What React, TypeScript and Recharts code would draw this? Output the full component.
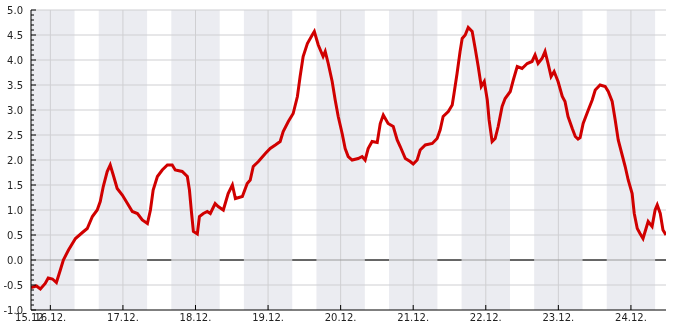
import { Line, LineChart, ReferenceArea, ReferenceLine, XAxis, YAxis } from "recharts";

// hours counted from 16.12. 00:00
const hours = [
  -6.4, -4.6, -3.3, -1.7, -0.7, 0.7, 2.0, 3.3, 4.3, 6.0,
  8.3, 10.6, 12.2, 13.9, 15.5, 16.5, 17.5, 18.8, 19.8, 20.8,
  22.1, 23.8, 25.5, 27.1, 28.8, 30.4, 32.1, 33.1, 34.0, 35.4,
  37.0, 38.7, 40.3, 41.3, 43.6, 45.3, 46.0, 46.6, 47.3, 48.6,
  49.3, 50.6, 51.9, 52.9, 54.5, 55.5, 57.2, 58.8, 60.2, 61.2,
  63.5, 65.1, 66.1, 67.1, 68.8, 71.1, 72.7, 74.4, 76.0, 77.0,
  78.7, 80.3, 81.7, 82.6, 83.6, 85.0, 86.6, 87.3, 88.6, 90.2,
  90.9, 91.9, 93.2, 94.2, 95.2, 96.5, 97.5, 98.5, 99.8, 101.8,
  103.1, 104.1, 105.1, 106.4, 108.1, 109.1, 110.1, 111.7, 113.4, 114.7,
  115.7, 117.4, 119.0, 120.0, 121.3, 122.3, 124.0, 126.3, 127.9, 128.9,
  129.9, 131.6, 132.9, 133.5, 134.5, 135.5, 136.2, 137.2, 138.2, 139.5,
  140.5, 141.5, 142.5, 143.5, 144.5, 145.1, 146.1, 147.1, 148.1, 149.4,
  150.4, 152.1, 153.1, 154.4, 156.0, 157.7, 159.3, 160.3, 161.3, 162.6,
  163.6, 164.6, 165.6, 166.6, 167.9, 169.3, 170.2, 171.2, 172.6, 173.6,
  174.5, 175.2, 176.2, 177.9, 179.2, 180.2, 181.8, 183.5, 184.5, 185.8,
  186.8, 187.8, 189.1, 190.1, 191.1, 192.4, 193.1, 194.1, 195.0, 196.0,
  197.0, 197.7, 199.0, 200.0, 200.7, 201.7, 202.6, 203.6,
];

const values = [
  -0.55, -0.52, -0.58, -0.47, -0.36, -0.38, -0.45, -0.2, 0.0, 0.2,
  0.43, 0.55, 0.63, 0.87, 1.0, 1.17, 1.47, 1.77, 1.9, 1.7,
  1.43, 1.3, 1.13, 0.97, 0.93, 0.8, 0.73, 1.0, 1.4, 1.67,
  1.8, 1.9, 1.9, 1.8, 1.77, 1.67, 1.4, 1.0, 0.57, 0.52,
  0.87, 0.93, 0.97, 0.93, 1.13, 1.07, 1.0, 1.33, 1.5, 1.23,
  1.27, 1.53, 1.6, 1.87, 1.97, 2.13, 2.23, 2.3, 2.37, 2.57,
  2.77, 2.93, 3.27, 3.67, 4.07, 4.33, 4.5, 4.57, 4.3, 4.07,
  4.17, 3.93, 3.57, 3.2, 2.87, 2.53, 2.23, 2.07, 2.0, 2.03,
  2.07, 2.0, 2.23, 2.37, 2.35, 2.73, 2.9, 2.73, 2.67, 2.4,
  2.27, 2.03, 1.97, 1.92, 2.0, 2.2, 2.3, 2.33, 2.43, 2.6,
  2.87, 2.97, 3.1, 3.33, 3.73, 4.17, 4.43, 4.5, 4.65, 4.57,
  4.23, 3.87, 3.47, 3.57, 3.2, 2.8, 2.37, 2.43, 2.67, 3.07,
  3.23, 3.37, 3.6, 3.87, 3.83, 3.93, 3.97, 4.1, 3.93, 4.03,
  4.17, 3.93, 3.67, 3.77, 3.57, 3.27, 3.17, 2.87, 2.63, 2.47,
  2.42, 2.45, 2.73, 3.0, 3.2, 3.4, 3.5, 3.47, 3.37, 3.17,
  2.8, 2.4, 2.1, 1.87, 1.6, 1.33, 0.93, 0.63, 0.53, 0.43,
  0.63, 0.77, 0.67, 1.0, 1.1, 0.93, 0.6, 0.5,
];

const xDomain: [number, number] = [-6.4, 203.6];
const xTicks = [-6.4, 0, 24, 48, 72, 96, 120, 144, 168, 192];
const xTickLabels = ["15.12.", "16.12.", "17.12.", "18.12.", "19.12.", "20.12.", "21.12.", "22.12.", "23.12.", "24.12."];
const yMajor = [-1, -0.5, 0, 0.5, 1, 1.5, 2, 2.5, 3, 3.5, 4, 4.5, 5];
const yTicks = Array.from({ length: 61 }, (_, i) => (i - 10) / 10);

// night bands, 16:00 -> 08:00
const nightBands: [number, number][] = [
  [-8, 8], [16, 32], [40, 56], [64, 80], [88, 104], [112, 128], [136, 152], [160, 176], [184, 200],
];

const data = hours.map((h, i) => ({ h, v: values[i] }));
const daySegments = nightBands.map((b, i) => [b[1], i + 1 < nightBands.length ? nightBands[i + 1][0] : xDomain[1]]);

const font = "DejaVu Sans, sans-serif";

function YTick(props: any) {
  const { x, y, payload } = props;
  const v = payload.value as number;
  const major = Math.abs(v * 2 - Math.round(v * 2)) < 1e-6;
  const ax = x + 8;
  return (
    <g>
      <line x1={ax} x2={ax + (major ? 5 : 3)} y1={y} y2={y} stroke="#000" />
      {major && (
        <text x={x} y={y} dy="0.355em" textAnchor="end" fontSize={10} fontFamily={font} fill="#222">
          {v.toFixed(1)}
        </text>
      )}
    </g>
  );
}

function XTick(props: any) {
  const { x, y, payload } = props;
  const i = xTicks.indexOf(payload.value);
  const ay = y - 4;
  return (
    <g>
      {i > 0 && <line x1={x} x2={x} y1={ay} y2={ay - 5} stroke="#000" />}
      <text x={x} y={y} dy="0.71em" textAnchor="middle" fontSize={10} fontFamily={font} fill="#222">
        {xTickLabels[i]}
      </text>
    </g>
  );
}

export default function App() {
  return (
    <div style={{ position: "fixed", left: 0, top: 0 }}>
      <LineChart width={685} height={330} data={data} margin={{ top: 10, right: 19, bottom: 0, left: 0 }}>
        <XAxis
          type="number"
          dataKey="h"
          domain={xDomain}
          allowDataOverflow
          ticks={xTicks}
          interval={0}
          height={20}
          tickSize={0}
          tickMargin={4}
          tickLine={false}
          axisLine={{ stroke: "#000" }}
          tick={XTick}
        />
        <YAxis
          type="number"
          domain={[-1, 5]}
          ticks={yTicks}
          interval={0}
          width={31}
          tickSize={0}
          tickMargin={8}
          tickLine={false}
          axisLine={{ stroke: "#000" }}
          tick={YTick}
        />
        {nightBands.map((b) => (
          <ReferenceArea key={b[0]} x1={b[0]} x2={b[1]} fill="#ebecf1" fillOpacity={1} stroke="none" ifOverflow="hidden" />
        ))}
        {yMajor.filter((v) => v !== 0 && v !== -1).map((v) => (
          <ReferenceLine key={"h" + v} y={v} stroke="#cfcfd2" />
        ))}
        {xTicks.slice(1).map((t) => (
          <ReferenceLine key={"v" + t} x={t} stroke="#cfcfd2" />
        ))}
        <ReferenceLine y={0} stroke="#9a9a9a" />
        {daySegments.map((s) => (
          <ReferenceLine key={"z" + s[0]} segment={[{ x: s[0], y: 0 }, { x: s[1], y: 0 }]} stroke="#000" />
        ))}
        <Line
          type="linear"
          dataKey="v"
          stroke="#d00000"
          strokeWidth={3}
          dot={false}
          isAnimationActive={false}
        />
      </LineChart>
    </div>
  );
}
